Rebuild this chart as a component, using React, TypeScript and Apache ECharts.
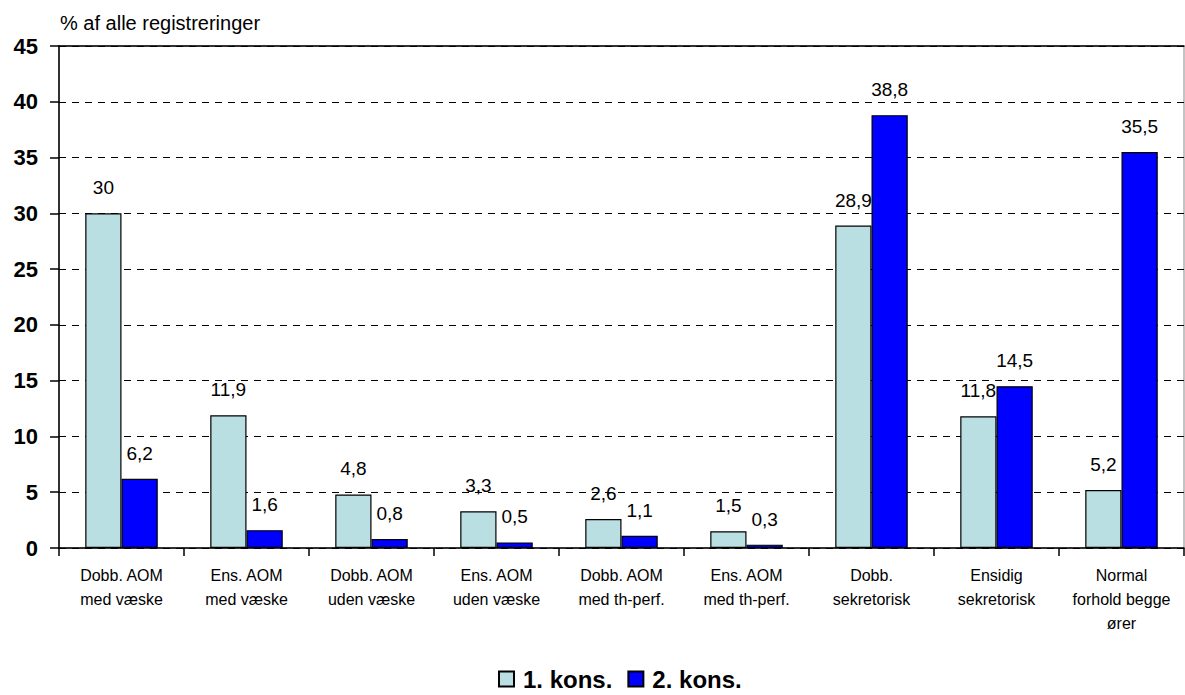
import React, { useEffect, useRef } from "react";
import * as echarts from "echarts";

const categories = [
  "Dobb. AOM\nmed væske",
  "Ens. AOM\nmed væske",
  "Dobb. AOM\nuden væske",
  "Ens. AOM\nuden væske",
  "Dobb. AOM\nmed th-perf.",
  "Ens. AOM\nmed th-perf.",
  "Dobb.\nsekretorisk",
  "Ensidig\nsekretorisk",
  "Normal\nforhold begge\nører",
];
const kons1 = [30, 11.9, 4.8, 3.3, 2.6, 1.5, 28.9, 11.8, 5.2];
const kons2 = [6.2, 1.6, 0.8, 0.5, 1.1, 0.3, 38.8, 14.5, 35.5];
const seriesNames = ["1. kons.", "2. kons."];
const yTicks = [0, 5, 10, 15, 20, 25, 30, 35, 40, 45];
const yTitle = "% af alle registreringer";

const FONT = "'Liberation Sans', Arial, sans-serif";

export default function App() {
  const ref = useRef<HTMLDivElement>(null);
  useEffect(() => {
    if (!ref.current) return;
    const chart = echarts.init(ref.current, undefined, { renderer: "svg" });
    const fmt = (p: any) => String(p.value).replace(".", ",");
    const label = {
      show: true,
      position: "top",
      distance: 16,
      fontFamily: FONT,
      fontSize: 19,
      color: "#000",
      formatter: fmt,
    };
    chart.setOption({
      animation: false,
      backgroundColor: "#fff",
      textStyle: { fontFamily: FONT },
      title: {
        text: yTitle,
        left: 55,
        top: 8,
        textStyle: { fontFamily: FONT, fontSize: 20, fontWeight: "normal", color: "#000" },
      },
      grid: {
        left: 59,
        right: 1,
        top: 46,
        bottom: 147,
        show: true,
        borderColor: "#888",
        borderWidth: 1,
        backgroundColor: "transparent",
      },
      legend: {
        bottom: -1,
        left: 493,
        itemWidth: 15,
        itemHeight: 15,
        itemGap: 15,
        icon: "rect",
        textStyle: { fontFamily: FONT, fontSize: 24, fontWeight: "bold", color: "#000", padding: [0, 0, 0, 4] },
        data: seriesNames,
      },
      xAxis: [
        {
          type: "category",
          data: categories,
          axisLine: { lineStyle: { color: "#000", width: 1.5 } },
          axisTick: { show: true, length: 8, lineStyle: { color: "#000", width: 1.5 } },
          axisLabel: {
            margin: 15,
            fontFamily: FONT,
            fontSize: 16,
            lineHeight: 24,
            color: "#000",
            interval: 0,
          },
        },
        {
          type: "category",
          data: categories,
          position: "top",
          axisLine: { show: true, lineStyle: { color: "#000", width: 1.5 } },
          axisTick: { show: false },
          axisLabel: { show: false },
        },
      ],
      yAxis: {
        type: "value",
        min: yTicks[0],
        max: yTicks[yTicks.length - 1],
        interval: 5,
        axisLine: { show: true, lineStyle: { color: "#000", width: 1.5 } },
        axisTick: { show: true, length: 9, lineStyle: { color: "#000", width: 1.5 } },
        axisLabel: {
          margin: 21,
          fontFamily: FONT,
          fontSize: 22,
          fontWeight: "bold",
          color: "#000",
        },
        splitLine: { show: true, lineStyle: { color: "#000", width: 1, type: [7, 6] } },
      },
      series: [
        {
          name: seriesNames[0],
          type: "bar",
          data: kons1,
          barGap: "0%",
          barCategoryGap: "42%",
          itemStyle: { color: "#BADFE2", borderColor: "#000", borderWidth: 1.2 },
          label,
        },
        {
          name: seriesNames[1],
          type: "bar",
          data: kons2,
          barGap: "0%",
          barCategoryGap: "42%",
          itemStyle: { color: "#0000FF", borderColor: "#000", borderWidth: 1.2 },
          label,
        },
      ],
    });
    return () => chart.dispose();
  }, []);
  return (
    <div
      ref={ref}
      style={{ position: "absolute", left: 0, top: 0, width: 1185, height: 695 }}
    />
  );
}
